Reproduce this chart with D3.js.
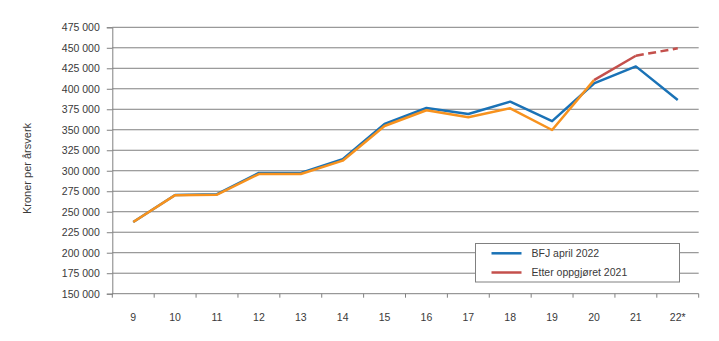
<!DOCTYPE html>
<html>
<head>
<meta charset="utf-8">
<script src="https://cdn.jsdelivr.net/npm/d3@7"></script>
<style>
  html, body { margin: 0; padding: 0; background: #fff; }
  svg { display: block; }
  text { font-family: "Liberation Sans", Arial, sans-serif; fill: #3a3a3a; }
</style>
</head>
<body>
<svg id="chart" width="719" height="341"></svg>
<script>
// ---- Data ----
const years = ["9","10","11","12","13","14","15","16","17","18","19","20","21","22*"];
const bfjApril2022 = [237500, 270400, 271400, 297300, 297300, 314000, 357000, 376600, 369300, 384300, 360500, 406500, 427300, 386300];
const orangeSeries = [237500, 270200, 270800, 296000, 296000, 312300, 354600, 373800, 365200, 376200, 349700, 410500, null, null];
const etterOppgjoret2021 = [null, null, null, null, null, null, null, null, null, null, null, 410500, 440300, 449400];
const yTicks = [150000,175000,200000,225000,250000,275000,300000,325000,350000,375000,400000,425000,450000,475000];
const legendLabels = ["BFJ april 2022", "Etter oppgjøret 2021"];
const yTitle = "Kroner per årsverk";

// ---- Layout ----
const svg = d3.select("#chart");
const pLeft = 112.3, pRight = 698.7, pTop = 27.3, pBottom = 293.7;
const colors = { blue: "#1a72b6", orange: "#f7921e", red: "#c4504c", grid: "#808080" };

const x = d3.scaleBand().domain(years).range([pLeft, pRight]).padding(0);
const y = d3.scaleLinear().domain([150000, 475000]).range([pBottom, pTop]);
const fmt = v => d3.format(",")(v).replace(/,/g, " ");

// gridlines
svg.append("g").selectAll("line").data(yTicks.slice(1)).join("line")
  .attr("x1", pLeft).attr("x2", pRight)
  .attr("y1", d => y(d)).attr("y2", d => y(d))
  .attr("stroke", colors.grid).attr("stroke-width", 1);

// y axis
const yAxis = svg.append("g").attr("transform", `translate(${pLeft},0)`)
  .call(d3.axisLeft(y).tickValues(yTicks).tickFormat(fmt).tickSize(5.5).tickPadding(7));
yAxis.select(".domain").attr("stroke", colors.grid);
yAxis.selectAll(".tick line").attr("stroke", colors.grid);
yAxis.selectAll("text").style("font-size", "10.5px").attr("fill", "#3a3a3a")
  .style("font-family", "'Liberation Sans', Arial, sans-serif");

// x axis (ticks at band boundaries)
const xg = svg.append("g");
xg.append("line").attr("x1", pLeft).attr("x2", pRight).attr("y1", pBottom).attr("y2", pBottom)
  .attr("stroke", colors.grid);
const bounds = years.map(d => x(d)).concat([x(years[years.length-1]) + x.bandwidth()]);
xg.selectAll(".xt").data(bounds).join("line").attr("class","xt")
  .attr("x1", d => d).attr("x2", d => d).attr("y1", pBottom).attr("y2", pBottom + 4)
  .attr("stroke", colors.grid);
xg.selectAll(".xl").data(years).join("text").attr("class","xl")
  .attr("x", d => x(d) + x.bandwidth()/2).attr("y", 320.5)
  .attr("text-anchor", "middle").style("font-size", "10.5px").text(d => d);

// y title
svg.append("text").attr("transform", "translate(31,168.5) rotate(-90)")
  .attr("text-anchor", "middle").style("font-size", "11px").text(yTitle);

// lines
const cx = i => x(years[i]) + x.bandwidth()/2;
const lineGen = d3.line().defined(d => d.v != null).x(d => cx(d.i)).y(d => y(d.v));
const toPts = arr => arr.map((v, i) => ({ v, i }));

svg.append("path").datum(toPts(bfjApril2022)).attr("d", lineGen)
  .attr("fill", "none").attr("stroke", colors.blue).attr("stroke-width", 2.5).attr("stroke-linejoin", "round");

const redPts = toPts(etterOppgjoret2021).filter(d => d.v != null);
svg.append("path").datum(redPts.slice(0, 2)).attr("d", lineGen)
  .attr("fill", "none").attr("stroke", colors.red).attr("stroke-width", 2.5).attr("stroke-linejoin", "round");
svg.append("path").datum(redPts.slice(1)).attr("d", lineGen)
  .attr("fill", "none").attr("stroke", colors.red).attr("stroke-width", 2.5).attr("stroke-dasharray", "8,4.5");

svg.append("path").datum(toPts(orangeSeries)).attr("d", lineGen)
  .attr("fill", "none").attr("stroke", colors.orange).attr("stroke-width", 2.5).attr("stroke-linejoin", "round");

// legend
const lg = svg.append("g");
lg.append("rect").attr("x", 475.5).attr("y", 243.5).attr("width", 204).attr("height", 38.5)
  .attr("fill", "#fff").attr("stroke", colors.grid).attr("stroke-width", 1);
const legColors = [colors.blue, colors.red];
legendLabels.forEach((lab, i) => {
  const yy = 253.3 + i * 19.2;
  lg.append("line").attr("x1", 491.5).attr("x2", 521.5).attr("y1", yy).attr("y2", yy)
    .attr("stroke", legColors[i]).attr("stroke-width", 2.5);
  lg.append("text").attr("x", 531.5).attr("y", yy + 3.8).style("font-size", "10.5px").text(lab);
});
</script>
</body>
</html>
